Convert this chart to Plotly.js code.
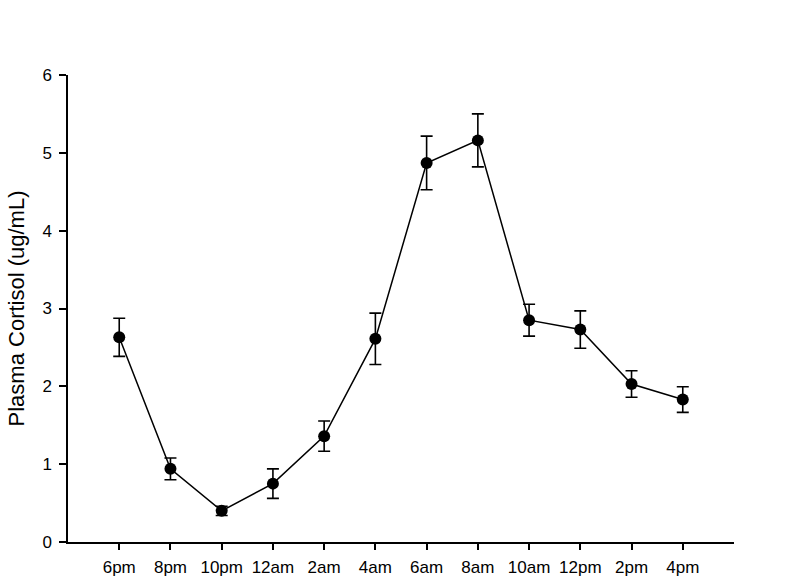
<!DOCTYPE html>
<html>
<head>
<meta charset="utf-8">
<script src="https://cdn.plot.ly/plotly-3.0.1.min.js"></script>
<style>
  html, body { margin: 0; padding: 0; background: #fff; }
  #chart { width: 800px; height: 585px; }
</style>
</head>
<body>
<div id="chart"></div>
<script>
// time of day (x categories)
const timePoints = ["6pm", "8pm", "10pm", "12am", "2am", "4am", "6am", "8am", "10am", "12pm", "2pm", "4pm"];
// mean plasma cortisol, ug/mL
const cortisol = [2.63, 0.94, 0.40, 0.75, 1.36, 2.61, 4.87, 5.16, 2.85, 2.73, 2.03, 1.83];
// error bar half-length (SEM)
const cortisolErr = [0.245, 0.14, 0.06, 0.19, 0.195, 0.33, 0.345, 0.34, 0.205, 0.24, 0.17, 0.165];

const trace = {
    x: timePoints.map((t, i) => i),
    y: cortisol,
    type: "scatter",
    mode: "lines+markers",
    line: {color: "black", width: 1.5},
    marker: {color: "black", size: 12},
    error_y: {type: "data", array: cortisolErr, visible: true, color: "black", thickness: 1.6, width: 6},
    hoverinfo: "y",
};

const layout = {
    width: 800,
    height: 585,
    margin: {l: 68, r: 66, t: 75, b: 43},
    paper_bgcolor: "white",
    plot_bgcolor: "white",
    showlegend: false,
    font: {family: "Liberation Sans, Arial, sans-serif", color: "black"},
    xaxis: {
        range: [-1, 12],
        tickmode: "array",
        tickvals: timePoints.map((t, i) => i),
        ticktext: timePoints,
        ticks: "outside",
        ticklen: 6,
        tickwidth: 1.5,
        tickcolor: "black",
        ticklabelstandoff: 3,
        showline: true,
        linecolor: "black",
        linewidth: 1.5,
        showgrid: false,
        zeroline: false,
        tickfont: {size: 17},
    },
    yaxis: {
        range: [0, 6],
        tickvals: [0, 1, 2, 3, 4, 5, 6],
        ticks: "outside",
        ticklen: 7,
        tickwidth: 1.5,
        tickcolor: "black",
        ticklabelstandoff: 4,
        showline: true,
        linecolor: "black",
        linewidth: 1.5,
        showgrid: false,
        zeroline: false,
        tickfont: {size: 17},
        title: {text: "Plasma Cortisol (ug/mL)", font: {size: 22}, standoff: 12},
    },
};

Plotly.newPlot("chart", [trace], layout, {displayModeBar: false});
</script>
</body>
</html>
